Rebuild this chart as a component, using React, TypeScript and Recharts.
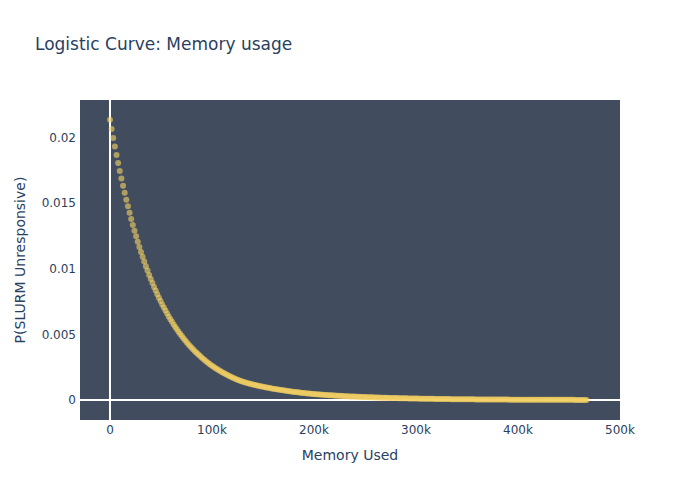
import { ScatterChart, Scatter, XAxis, YAxis, CartesianGrid, ReferenceLine } from "recharts"

// memory used, in thousands
const memoryUsedK = [
  0, 1.6, 3.2, 4.8, 6.4, 8, 9.6, 11.2, 12.8, 14.4,
  16, 17.6, 19.2, 20.8, 22.4, 24, 25.6, 27.2, 28.8, 30.4,
  32, 33.6, 35.2, 36.8, 38.4, 40, 41.6, 43.2, 44.8, 46.4,
  48, 49.6, 51.2, 52.8, 54.4, 56, 57.6, 59.2, 60.8, 62.4,
  64, 65.6, 67.2, 68.8, 70.4, 72, 73.6, 75.2, 76.8, 78.4,
  80, 81.6, 83.2, 84.8, 86.4, 88, 89.6, 91.2, 92.8, 94.4,
  96, 97.6, 99.2, 100.8, 102.4, 104, 105.6, 107.2, 108.8, 110.4,
  112, 113.6, 115.2, 116.8, 118.4, 120, 121.6, 123.2, 124.8, 126.4,
  128, 129.6, 131.2, 132.8, 134.4, 136, 137.6, 139.2, 140.8, 142.4,
  144, 145.6, 147.2, 148.8, 150.4, 152, 153.6, 155.2, 156.8, 158.4,
  160,
  161.6, 163.2, 164.8, 166.4, 168, 169.6, 171.2, 172.8, 174.4, 176,
  177.6, 179.2, 180.8, 182.4, 184, 185.6, 187.2, 188.8, 190.4, 192,
  193.6, 195.2, 196.8, 198.4, 200, 201.6, 203.2, 204.8, 206.4, 208,
  209.6, 211.2, 212.8, 214.4, 216, 217.6, 219.2, 220.8, 222.4, 224,
  225.6, 227.2, 228.8, 230.4, 232, 233.6, 235.2, 236.8, 238.4, 240,
  241.6, 243.2, 244.8, 246.4, 248, 249.6, 251.2, 252.8, 254.4, 256,
  257.6, 259.2, 260.8, 262.4, 264, 265.6, 267.2, 268.8, 270.4, 272,
  273.6, 275.2, 276.8, 278.4, 280, 281.6, 283.2, 284.8, 286.4, 288,
  289.6, 291.2, 292.8, 294.4, 296, 297.6, 299.2, 300.8, 302.4, 304,
  305.6, 307.2, 308.8, 310.4, 312, 313.6, 315.2, 316.8, 318.4, 320,
  321.6, 323.2, 324.8, 326.4, 328, 329.6, 331.2, 332.8, 334.4, 336,
  337.6, 339.2, 340.8, 342.4, 344, 345.6, 347.2, 348.8, 350.4, 352,
  353.6, 355.2, 356.8, 358.4, 360, 361.6, 363.2, 364.8, 366.4, 368,
  369.6, 371.2, 372.8, 374.4, 376, 377.6, 379.2, 380.8, 382.4, 384,
  385.6, 387.2, 388.8, 390.4, 392, 393.6, 395.2, 396.8, 398.4, 400,
  401.6, 403.2, 404.8, 406.4, 408, 409.6, 411.2, 412.8, 414.4, 416,
  417.6, 419.2, 420.8, 422.4, 424, 425.6, 427.2, 428.8, 430.4, 432,
  433.6, 435.2, 436.8, 438.4, 440, 441.6, 443.2, 444.8, 446.4, 448,
  449.6, 451.2, 452.8, 454.4, 456, 457.6, 459.2, 460.8, 462.4, 464,
  465.6, 467.2,
]

const probability = [
  0.02135, 0.020645, 0.019963, 0.019303, 0.018666, 0.018048, 0.017452, 0.016875, 0.016318, 0.015779,
  0.015257, 0.014753, 0.014266, 0.013794, 0.013339, 0.012898, 0.012472, 0.01206, 0.011661, 0.011276,
  0.010903, 0.010543, 0.010195, 0.009858, 0.009532, 0.009217, 0.008913, 0.008618, 0.008333, 0.008058,
  0.007792, 0.007534, 0.007285, 0.007044, 0.006812, 0.006587, 0.006369, 0.006159, 0.005955, 0.005758,
  0.005568, 0.005384, 0.005206, 0.005034, 0.004868, 0.004707, 0.004551, 0.004401, 0.004256, 0.004115,
  0.003979, 0.003848, 0.00372, 0.003597, 0.003479, 0.003364, 0.003253, 0.003145, 0.003041, 0.002941,
  0.002844, 0.00275, 0.002659, 0.002571, 0.002486, 0.002404, 0.002324, 0.002248, 0.002173, 0.002102,
  0.002032, 0.001965, 0.0019, 0.001837, 0.001777, 0.001718, 0.001661, 0.001606, 0.001553, 0.001502,
  0.001452, 0.001404, 0.001369, 0.001334, 0.0013, 0.001267, 0.001235, 0.001204, 0.001174, 0.001144,
  0.001115, 0.001087, 0.001059, 0.001033, 0.001006, 0.000981, 0.000956, 0.000932, 0.000908, 0.000885,
  0.000863,
  0.000841, 0.00082, 0.000799, 0.000779, 0.000759, 0.00074, 0.000721, 0.000703, 0.000685, 0.000668,
  0.000651, 0.000635, 0.000619, 0.000603, 0.000588, 0.000573, 0.000558, 0.000544, 0.00053, 0.000517,
  0.000504, 0.000491, 0.000479, 0.000467, 0.000457, 0.000447, 0.000437, 0.000427, 0.000418, 0.000408,
  0.000399, 0.00039, 0.000382, 0.000373, 0.000365, 0.000357, 0.000349, 0.000341, 0.000333, 0.000326,
  0.000319, 0.000312, 0.000305, 0.000298, 0.000291, 0.000285, 0.000279, 0.000273, 0.000267, 0.000261,
  0.000255, 0.000249, 0.000244, 0.000238, 0.000233, 0.000228, 0.000223, 0.000218, 0.000213, 0.000208,
  0.000204, 0.000199, 0.000195, 0.000191, 0.000186, 0.000182, 0.000178, 0.000174, 0.000171, 0.000167,
  0.000163, 0.000159, 0.000156, 0.000152, 0.000149, 0.000146, 0.000142, 0.000139, 0.000136, 0.000133,
  0.00013, 0.000127, 0.000124, 0.000122, 0.000119, 0.000116, 0.000114, 0.000111, 0.000109, 0.000106,
  0.000104, 0.000102, 0.000099, 0.000097, 0.000095, 0.000093, 0.000091, 0.000089, 0.000087, 0.000085,
  0.000083, 0.000081, 0.00008, 0.000078, 0.000076, 0.000074, 0.000073, 0.000071, 0.000069, 0.000068,
  0.000066, 0.000065, 0.000063, 0.000062, 0.000061, 0.000059, 0.000058, 0.000057, 0.000055, 0.000054,
  0.000053, 0.000052, 0.000051, 0.00005, 0.000048, 0.000047, 0.000046, 0.000045, 0.000044, 0.000043,
  0.000042, 0.000041, 0.00004, 0.00004, 0.000039, 0.000038, 0.000037, 0.000036, 0.000035, 0.000035,
  0.000034, 0.000033, 0.000032, 0.000032, 0.000031, 0.00003, 0.000029, 0.000029, 0.000028, 0.000028,
  0.000027, 0.000026, 0.000026, 0.000025, 0.000025, 0.000024, 0.000023, 0.000023, 0.000022, 0.000022,
  0.000021, 0.000021, 0.00002, 0.00002, 0.000019, 0.000019, 0.000018, 0.000018, 0.000018, 0.000018,
  0.000017, 0.000017, 0.000016, 0.000016, 0.000016, 0.000015, 0.000015, 0.000015, 0.000014, 0.000014,
  0.000014, 0.000013, 0.000013, 0.000013, 0.000012, 0.000012, 0.000012, 0.000012, 0.000011, 0.000011,
  0.000011, 0.000011,
]

const xTicks = [0, 100000, 200000, 300000, 400000, 500000]
const yTicks = [0, 0.005, 0.01, 0.015, 0.02]

const data = memoryUsedK.map((k, i) => ({ memory: Math.round(k * 1000), p: probability[i] }))

const FONT = '"DejaVu Sans", Verdana, sans-serif'
const TEXT = "#2a3f5f"

const Marker = (props: any) => (
  <circle cx={props.cx} cy={props.cy} r={3} fill="#f3d164" fillOpacity={0.62} />
)

export default function App() {
  return (
    <div style={{ position: "absolute", left: 0, top: 0, width: 700, height: 500, background: "#fff", fontFamily: FONT }}>
      <div style={{ position: "absolute", left: 35, top: 34, fontSize: 17, lineHeight: "20px", color: TEXT }}>
        Logistic Curve: Memory usage
      </div>
      <ScatterChart width={700} height={500} margin={{ top: 100, right: 80, left: 0, bottom: 0 }}>
        <CartesianGrid horizontal={false} vertical={false} fill="#414d5e" fillOpacity={1} stroke="none" />
        <XAxis
          type="number"
          dataKey="memory"
          domain={[-29400, 500000]}
          ticks={xTicks}
          allowDataOverflow
          height={80}
          axisLine={false}
          tickLine={false}
          tickSize={0}
          tickMargin={5}
          tick={{ fontSize: 12, fill: TEXT, fontFamily: FONT }}
          tickFormatter={(v: number) => (v === 0 ? "0" : `${v / 1000}k`)}
          label={{ value: "Memory Used", position: "insideBottom", offset: 40, fill: TEXT, fontSize: 14, fontFamily: FONT }}
        />
        <YAxis
          type="number"
          dataKey="p"
          domain={[-0.00152, 0.02285]}
          ticks={yTicks}
          allowDataOverflow
          width={80}
          axisLine={false}
          tickLine={false}
          tickSize={0}
          tickMargin={4}
          tick={{ fontSize: 12, fill: TEXT, fontFamily: FONT }}
          label={{
            value: "P(SLURM Unresponsive)",
            angle: -90,
            position: "insideLeft",
            offset: 20,
            fill: TEXT,
            fontSize: 14,
            fontFamily: FONT,
            style: { textAnchor: "middle" },
          }}
        />
        <ReferenceLine x={0} stroke="#ffffff" strokeWidth={2} ifOverflow="hidden" />
        <ReferenceLine y={0} stroke="#ffffff" strokeWidth={2} ifOverflow="hidden" />
        <Scatter data={data} shape={<Marker />} isAnimationActive={false} />
      </ScatterChart>
    </div>
  )
}
